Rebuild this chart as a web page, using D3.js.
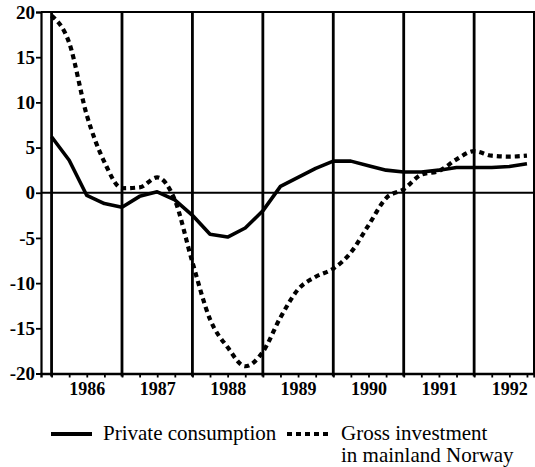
<!DOCTYPE html>
<html><head><meta charset="utf-8">
<script src="https://cdn.jsdelivr.net/npm/d3@7"></script>
<style>body{margin:0;background:#fff}svg{display:block}</style>
</head><body>
<svg id="c" width="535" height="467"></svg>
<script>
// ---- data (quarterly, 1986Q1 .. 1992Q4), percent change ----
const years = ["1986","1987","1988","1989","1990","1991","1992"];
const quarterLabels = years.flatMap(y => ["Q1","Q2","Q3","Q4"].map(q => y + q));
const consumption = [6.2, 3.6, -0.3, -1.2, -1.6, -0.4, 0.1, -0.8,
                     -2.5, -4.6, -4.9, -3.9, -2.0, 0.7, 1.7, 2.7,
                     3.5, 3.5, 3.0, 2.5, 2.3, 2.3, 2.5, 2.8,
                     2.8, 2.8, 2.9, 3.2];
const investment = [19.6, 16.6, 8.6, 3.4, 0.5, 0.6, 1.7, -0.8,
                    -7.7, -14.0, -17.1, -19.2, -17.6, -13.8, -10.7, -9.3,
                    -8.4, -6.6, -3.6, -0.6, 0.4, 2.0, 2.4, 3.7,
                    4.6, 4.1, 4.0, 4.1];
const yTicks = [-20, -15, -10, -5, 0, 5, 10, 15, 20];
const seriesNames = ["Private consumption", "Gross investment", "in mainland Norway"];

const svg = d3.select("#c");
const L = 41, R = 534, T = 12, B = 373.5;
const idx = quarterLabels.map((d, i) => i);
const x = d3.scaleLinear().domain([-0.6, 27.4]).range([L, R]);
const y = d3.scaleLinear().domain([-20, 20]).range([B, T]);
const font = "'Liberation Serif','Times New Roman',serif";

// year boundary vertical lines (at Q1 of each year)
const yearStarts = years.map((d, k) => 4 * k);
svg.append("g").selectAll("line").data(yearStarts).join("line")
  .attr("x1", d => x(d)).attr("x2", d => x(d))
  .attr("y1", T).attr("y2", B + 3)
  .attr("stroke", "#000").attr("stroke-width", 2.8);

// zero line
svg.append("line").attr("x1", L).attr("x2", R).attr("y1", y(0)).attr("y2", y(0))
  .attr("stroke", "#000").attr("stroke-width", 2.2);

// frame top and right
svg.append("path").attr("d", `M${L},${T}H${R}V${B}`).attr("fill", "none")
  .attr("stroke", "#000").attr("stroke-width", 2);

// left axis
const ya = svg.append("g").attr("transform", `translate(${L},0)`)
  .call(d3.axisLeft(y).tickValues(yTicks).tickSize(5).tickPadding(1).tickFormat(d => String(d)));
ya.select(".domain").attr("stroke-width", 2.2);
ya.selectAll(".tick line").attr("stroke-width", 1.8);
ya.selectAll("text").attr("font-family", font).attr("font-size", 19).attr("font-weight", "bold").attr("fill", "#000");

// bottom axis with quarter ticks
const xa = svg.append("g").attr("transform", `translate(0,${B})`)
  .call(d3.axisBottom(x).tickValues(idx).tickSize(4).tickFormat(""));
xa.select(".domain").attr("stroke-width", 2.4);
xa.selectAll(".tick line").attr("stroke-width", 1.8);

// year labels
const yl = svg.append("g").attr("transform", `translate(0,${B})`)
  .call(d3.axisBottom(x).tickValues(years.map((d, k) => 4 * k + 2)).tickSize(0).tickPadding(9)
    .tickFormat((d, k) => years[k]));
yl.select(".domain").remove();
yl.selectAll("text").attr("font-family", font).attr("font-size", 18).attr("font-weight", "bold").attr("fill", "#000");

// series lines
svg.append("path").datum(consumption)
  .attr("d", d3.line().x((d, i) => x(i)).y(d => y(d)).curve(d3.curveLinear))
  .attr("fill", "none").attr("stroke", "#000").attr("stroke-width", 3.6).attr("stroke-linejoin", "round");
svg.append("path").datum(investment)
  .attr("d", d3.line().x((d, i) => x(i)).y(d => y(d)).curve(d3.curveMonotoneX))
  .attr("fill", "none").attr("stroke", "#000").attr("stroke-width", 4.2).attr("stroke-dasharray", "5 4");

// legend
const lg = svg.append("g");
lg.append("line").attr("x1", 51).attr("x2", 92).attr("y1", 434).attr("y2", 434)
  .attr("stroke", "#000").attr("stroke-width", 3.8);
lg.append("text").attr("x", 103).attr("y", 440).text(seriesNames[0]);
lg.append("line").attr("x1", 287).attr("x2", 332).attr("y1", 434).attr("y2", 434)
  .attr("stroke", "#000").attr("stroke-width", 4.2).attr("stroke-dasharray", "5 4");
lg.append("text").attr("x", 341).attr("y", 440).text(seriesNames[1]);
lg.append("text").attr("x", 341).attr("y", 462).text(seriesNames[2]);
lg.selectAll("text").attr("font-family", font).attr("font-size", 21).attr("fill", "#000");
</script>
</body></html>
